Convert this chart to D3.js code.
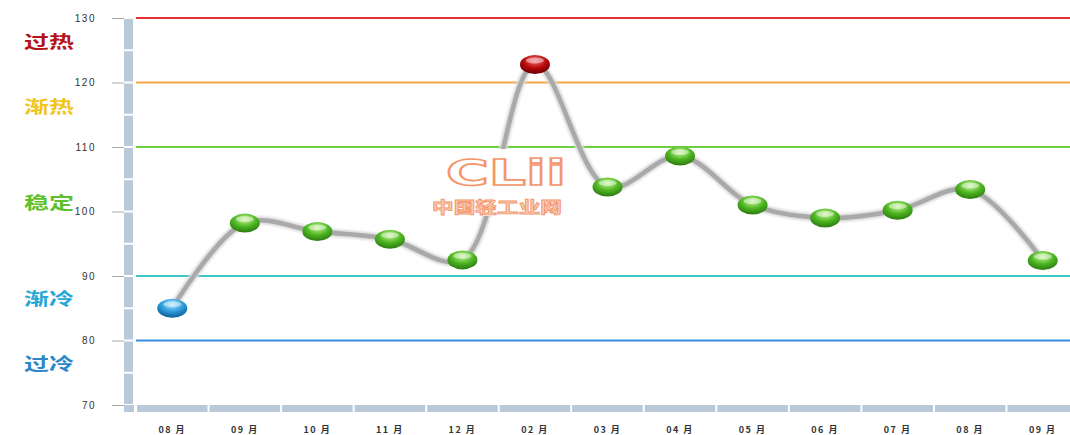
<!DOCTYPE html>
<html>
<head>
<meta charset="utf-8">
<script src="https://cdn.jsdelivr.net/npm/d3@7"></script>
<style>
  body { margin: 0; background: #fff; }
  svg { display: block; font-family: "Liberation Sans", "DejaVu Sans", sans-serif; }
</style>
</head>
<body>
<div id="chart"></div>
<script>
var width = 1070,
    height = 435;

// data
var months = ["08月", "09月", "10月", "11月", "12月", "02月", "03月", "04月", "05月", "06月", "07月", "08月", "09月"];
var values = [85.0, 98.2, 96.9, 95.7, 92.5, 122.8, 103.8, 108.6, 101.0, 99.0, 100.2, 103.4, 92.4];
var yTicks = [70, 80, 90, 100, 110, 120, 130];
var levels = [130, 120, 110, 90, 80];
var levelColors = ["#e2322f", "#f7a54a", "#6ccf3f", "#3fc4c8", "#3a8fe0"];
var zoneNames = ["过热", "渐热", "稳定", "渐冷", "过冷"];
var zoneValues = [126.3, 116.2, 101.3, 86.4, 76.4];
var zoneColors = ["#b3141a", "#f2c51c", "#5ec02a", "#27a7d6", "#2a86c8"];

var svg = d3.select("#chart")
    .append("svg")
    .attr("width", width)
    .attr("height", height);

var y = d3.scaleLinear().domain([70, 130]).range([405, 18]);

// index-based band for the months (same label appears twice)
var x = d3.scaleBand()
    .domain(d3.range(months.length))
    .range([136, 1079])
    .paddingInner(0)
    .paddingOuter(0);

var cx = function(i) { return x(i) + x.bandwidth() / 2; };

var defs = svg.append("defs");
function grad(id, light, mid, dark) {
  var g = defs.append("radialGradient").attr("id", id)
      .attr("cx", "50%").attr("cy", "30%").attr("r", "70%");
  g.append("stop").attr("offset", "0%").attr("stop-color", light);
  g.append("stop").attr("offset", "55%").attr("stop-color", mid);
  g.append("stop").attr("offset", "100%").attr("stop-color", dark);
}
grad("gGreen", "#c9f59a", "#4cb521", "#2c7a10");
grad("gRed", "#f07070", "#b8090b", "#6a0000");
grad("gBlue", "#a9e2ff", "#2a9bd8", "#0b5b94");

var shadow = defs.append("filter").attr("id", "soft")
    .attr("x", "-20%").attr("y", "-20%").attr("width", "140%").attr("height", "140%");
shadow.append("feGaussianBlur").attr("stdDeviation", 1.2);

// left segmented bar
var yBar = svg.append("g");
d3.range(70, 130, 5).forEach(function(v) {
  yBar.append("rect")
      .attr("x", 124)
      .attr("y", y(v + 5) + 1)
      .attr("width", 9)
      .attr("height", y(v) - y(v + 5) - 2)
      .attr("fill", "#b9c9da");
});

// bottom segmented bar
svg.append("g").selectAll("rect")
    .data(d3.range(months.length))
  .enter().append("rect")
    .attr("x", function(i) { return x(i) + 1; })
    .attr("y", 405)
    .attr("width", x.bandwidth() - 2)
    .attr("height", 7)
    .attr("fill", "#b9c9da");
svg.append("rect").attr("x", 124).attr("y", 405).attr("width", 10).attr("height", 7).attr("fill", "#b9c9da");

// y axis ticks
var yAxis = d3.axisLeft(y).tickValues(yTicks).tickSize(12).tickPadding(16);
var ya = svg.append("g").attr("transform", "translate(124,0)").call(yAxis);
ya.select(".domain").remove();
ya.selectAll(".tick line").attr("stroke", "#aaa");
ya.selectAll(".tick text")
    .attr("fill", "#333")
    .style("font-size", "10px")
    .style("letter-spacing", "1.5px");

// level lines
svg.append("g").selectAll("line")
    .data(levels)
  .enter().append("line")
    .attr("x1", 136)
    .attr("x2", width)
    .attr("y1", function(d) { return y(d); })
    .attr("y2", function(d) { return y(d); })
    .attr("stroke", function(d, i) { return levelColors[i]; })
    .attr("stroke-width", 2);

// zone labels (the original is stretched sideways)
svg.append("g").selectAll("text")
    .data(zoneNames)
  .enter().append("text")
    .attr("x", 24)
    .attr("y", function(d, i) { return y(zoneValues[i]); })
    .attr("dy", "0.35em")
    .attr("fill", function(d, i) { return zoneColors[i]; })
    .attr("textLength", 50)
    .attr("lengthAdjust", "spacingAndGlyphs")
    .style("font-family", "'Noto Sans CJK SC', sans-serif")
    .style("font-size", "17px")
    .style("font-weight", "bold")
    .text(function(d) { return d; });

// x labels
svg.append("g").selectAll("text")
    .data(months)
  .enter().append("text")
    .attr("x", function(d, i) { return cx(i); })
    .attr("y", 433)
    .attr("text-anchor", "middle")
    .attr("fill", "#333")
    .style("font-family", "'Noto Sans CJK SC', sans-serif")
    .style("font-size", "9px")
    .style("font-weight", "bold")
    .style("letter-spacing", "1.5px")
    .text(function(d) { return d.slice(0, 2) + " " + d.slice(2); });

// curve
var line = d3.line()
    .x(function(d, i) { return cx(i); })
    .y(function(d) { return y(d); })
    .curve(d3.curveCatmullRom.alpha(0.5));

svg.append("path")
    .datum(values)
    .attr("d", line)
    .attr("fill", "none")
    .attr("stroke", "#d8d8d8")
    .attr("stroke-width", 8)
    .attr("filter", "url(#soft)");
svg.append("path")
    .datum(values)
    .attr("d", line)
    .attr("fill", "none")
    .attr("stroke", "#a9a9a9")
    .attr("stroke-width", 4.5);

// watermark, sits on top of the curve with a white backing
var wm = svg.append("g");
wm.append("rect")
    .attr("x", 444).attr("y", 149).attr("width", 108).attr("height", 44)
    .attr("fill", "#fff").attr("opacity", 0.95);
wm.append("rect")
    .attr("x", 430).attr("y", 193).attr("width", 134).attr("height", 23)
    .attr("fill", "#fff").attr("opacity", 0.95);
wm.append("text")
    .attr("x", 446).attr("y", 185)
    .attr("fill", "#fff")
    .attr("stroke", "#f4956a")
    .attr("stroke-width", 1.6)
    .attr("textLength", 120)
    .attr("lengthAdjust", "spacingAndGlyphs")
    .style("font-family", "'DejaVu Sans', sans-serif")
    .style("font-size", "36px")
    .style("font-weight", "bold")
    .text("CLii");
wm.append("text")
    .attr("x", 432).attr("y", 213)
    .attr("fill", "#fbd3bd")
    .attr("stroke", "#f4956a")
    .attr("stroke-width", 0.8)
    .attr("textLength", 130)
    .attr("lengthAdjust", "spacingAndGlyphs")
    .style("font-family", "'Noto Sans CJK SC', sans-serif")
    .style("font-size", "16px")
    .style("font-weight", "bold")
    .text("中国轻工业网");

// markers
var pts = svg.append("g").selectAll("g")
    .data(values)
  .enter().append("g")
    .attr("transform", function(d, i) { return "translate(" + cx(i) + "," + y(d) + ")"; });
pts.append("ellipse")
    .attr("rx", 15).attr("ry", 9.5)
    .attr("fill", function(d) { return d > 120 ? "url(#gRed)" : d < 90 ? "url(#gBlue)" : "url(#gGreen)"; });
pts.append("ellipse")
    .attr("cy", -4).attr("rx", 9).attr("ry", 3)
    .attr("fill", "#fff")
    .attr("opacity", 0.45);
</script>
</body>
</html>
